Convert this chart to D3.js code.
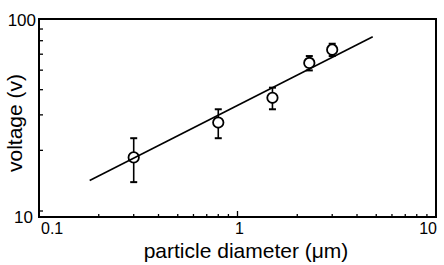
<!DOCTYPE html>
<html>
<head>
<meta charset="utf-8">
<script src="https://cdn.jsdelivr.net/npm/d3@7"></script>
<style>
  html, body { margin: 0; padding: 0; background: #fff; }
  svg { display: block; font-family: "Liberation Sans", Arial, sans-serif; }
</style>
</head>
<body>
<svg id="chart" width="444" height="265"></svg>
<script>
// ---- data ----
const diameters = [0.3, 0.8, 1.5, 2.3, 3.0];          // particle diameter (µm)
const voltages  = [20, 30, 40, 60, 70];                // voltage (v)
const errors    = [5, 5, 5, 5, 5];                     // ± error
const fitX      = [0.18, 4.8];                         // fit line x
const fitY      = [15.3, 81.4];                        // fit line y
const xTickLabels = ["0.1", "1", "10"];
const yTickLabels = ["10", "100"];
const xMinorTicks = [0.2,0.3,0.4,0.5,0.6,0.7,0.8,0.9,2,3,4,5,6,7,8,9];
const yMinorTicks = [10,20,30,40,50,60,70,80];

const svg = d3.select("#chart");
const L = 39, R = 436, T = 19, B = 217;

const x = d3.scaleLog().domain([0.1, 10]).range([L, R]);
const y = d3.scaleLog().domain([10, 100]).range([B, T]);
// tick marks in the original are drawn slightly offset from the frame
const yTick = y.copy().range([211, 9.5]);

// minor x ticks (inside, pointing up)
svg.append("g").selectAll("line").data(xMinorTicks).join("line")
  .attr("x1", d => x(d)).attr("x2", d => x(d))
  .attr("y1", B).attr("y2", B - 3)
  .attr("stroke", "#000").attr("stroke-width", 1.3);
// major x tick at 1
svg.append("line")
  .attr("x1", x(1)).attr("x2", x(1)).attr("y1", B).attr("y2", B - 6)
  .attr("stroke", "#000").attr("stroke-width", 1.3);

// y ticks (inside, pointing right)
svg.append("g").selectAll("line").data(yMinorTicks).join("line")
  .attr("x1", L).attr("x2", L + 4)
  .attr("y1", d => yTick(d)).attr("y2", d => yTick(d))
  .attr("stroke", "#000").attr("stroke-width", 1.3);

// frame
svg.append("rect")
  .attr("x", L).attr("y", T).attr("width", R - L).attr("height", B - T)
  .attr("fill", "none").attr("stroke", "#000").attr("stroke-width", 2);

// tick labels
const xl = svg.append("g").attr("font-size", 16).attr("fill", "#000");
xl.append("text").attr("x", x(0.1) + 2).attr("y", 234).attr("text-anchor", "start").text(xTickLabels[0]);
xl.append("text").attr("x", x(1) + 2).attr("y", 234).attr("text-anchor", "middle").text(xTickLabels[1]);
xl.append("text").attr("x", x(10) + 1).attr("y", 234).attr("text-anchor", "end").text(xTickLabels[2]);

const yl = svg.append("g").attr("font-size", 17).attr("fill", "#000").attr("text-anchor", "end");
yl.append("text").attr("x", 33).attr("y", y(10) + 6).text(yTickLabels[0]);
yl.append("text").attr("x", 36).attr("y", y(100) + 7).text(yTickLabels[1]);

// axis titles
svg.append("text").attr("x", 246).attr("y", 258).attr("text-anchor", "middle")
  .attr("font-size", 21).text("particle diameter (μm)");
svg.append("text").attr("transform", "translate(22,123) rotate(-90)")
  .attr("text-anchor", "middle").attr("font-size", 21).text("voltage (v)");

// data
const pts = diameters.map((d, i) => ({x: d, y: voltages[i], e: errors[i]}));

const eb = svg.append("g").attr("stroke", "#000").attr("stroke-width", 1.6);
pts.forEach(p => {
  const cx = x(p.x), y1 = y(p.y + p.e), y2 = y(p.y - p.e);
  eb.append("line").attr("x1", cx).attr("x2", cx).attr("y1", y1).attr("y2", y2);
  eb.append("line").attr("x1", cx - 3.5).attr("x2", cx + 3.5).attr("y1", y1).attr("y2", y1).attr("stroke-width", 2);
  eb.append("line").attr("x1", cx - 3.5).attr("x2", cx + 3.5).attr("y1", y2).attr("y2", y2).attr("stroke-width", 2);
});

svg.append("g").selectAll("circle").data(pts).join("circle")
  .attr("cx", d => x(d.x)).attr("cy", d => y(d.y)).attr("r", 5.2)
  .attr("fill", "#fff").attr("stroke", "#000").attr("stroke-width", 1.8);

const lineData = fitX.map((d, i) => [d, fitY[i]]);
svg.append("path").datum(lineData)
  .attr("d", d3.line().x(d => x(d[0])).y(d => y(d[1])))
  .attr("fill", "none").attr("stroke", "#000").attr("stroke-width", 1.6);
</script>
</body>
</html>
